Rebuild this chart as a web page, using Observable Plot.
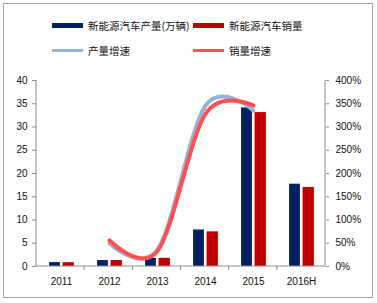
<!DOCTYPE html>
<html><head><meta charset="utf-8">
<script src="https://cdn.jsdelivr.net/npm/d3@7"></script>
<script src="https://cdn.jsdelivr.net/npm/@observablehq/plot@0.6"></script>
<style>
html,body{margin:0;padding:0;background:#fff;}
#wrap{position:relative;width:377px;height:303px;overflow:hidden;font-family:"Liberation Sans",Arial,sans-serif;}
#border{position:absolute;left:3px;top:3px;width:368px;height:293px;border:1.5px solid #a6a6a6;pointer-events:none;}
.lg{position:absolute;display:flex;align-items:center;font-family:"Noto Sans CJK SC",sans-serif;font-size:10.5px;color:#111;white-space:nowrap;}
.sw{display:inline-block;width:31px;margin-right:5px;}
#chart{position:absolute;left:0;top:0;}
</style></head>
<body>
<div id="wrap">
  <div id="chart"></div>
  <div id="legend"></div>
  <div id="border"></div>
</div>
<script>
const years = ["2011","2012","2013","2014","2015","2016H"];
const production = [0.84, 1.28, 1.75, 7.85, 34.1, 17.7];
const sales = [0.82, 1.28, 1.76, 7.45, 33.1, 17.0];
const growthYears = ["2012","2013","2014","2015"];
const productionGrowth = [50, 36, 346, 335];
const salesGrowth = [56, 33, 328, 346];
const leftTicks = [0,5,10,15,20,25,30,35,40];
const seriesNames = ["新能源汽车产量(万辆)","新能源汽车销量","产量增速","销量增速"];
const colors = ["#002060","#C00000","#95B3D7","#FF5050"];

const prodData = years.map((y,i)=>({year:y, value:production[i]}));
const salesData = years.map((y,i)=>({year:y, value:sales[i]}));
const pgData = growthYears.map((y,i)=>({year:y, g:productionGrowth[i]}));
const sgData = growthYears.map((y,i)=>({year:y, g:salesGrowth[i]}));

const W = 377, H = 303, mL = 36, mR = 52, mT = 80, mB = 37;
const bw = (W - mL - mR) / years.length;

const axisLines = (index, scales, values, dims) => {
  const g = d3.create("svg:g").attr("stroke","#8c8c8c").attr("stroke-width",1);
  const x0 = dims.marginLeft, x1 = dims.width - dims.marginRight, yb = dims.height - dims.marginBottom;
  g.append("line").attr("x1",x0).attr("x2",x0).attr("y1",dims.marginTop).attr("y2",yb);
  g.append("line").attr("x1",x1).attr("x2",x1).attr("y1",dims.marginTop).attr("y2",yb);
  g.append("line").attr("x1",x0).attr("x2",x1).attr("y1",yb).attr("y2",yb);
  for (let i = 1; i < years.length; i++) {
    const x = x0 + i * (x1 - x0) / years.length;
    g.append("line").attr("x1",x).attr("x2",x).attr("y1",yb).attr("y2",yb+4);
  }
  return g.node();
};

const chart = Plot.plot({
  width: W, height: H,
  marginLeft: mL, marginRight: mR, marginTop: mT, marginBottom: mB,
  style: {fontFamily: "'Liberation Sans', Arial, sans-serif", fontSize: "10px", color: "#111", background: "transparent"},
  x: {type: "band", domain: years, padding: 0},
  y: {domain: [0, 40]},
  marks: [
    Plot.barY(prodData, {x: "year", y: "value", fill: colors[0], insetLeft: bw/2 - 12, insetRight: bw/2 + 1}),
    Plot.barY(salesData, {x: "year", y: "value", fill: colors[1], insetLeft: bw/2 + 1.5, insetRight: bw/2 - 13}),
    Plot.line(pgData, {x: "year", y: d => d.g / 10, stroke: colors[2], strokeWidth: 4, curve: "cardinal"}),
    Plot.line(sgData, {x: "year", y: d => d.g / 10, stroke: colors[3], strokeWidth: 4, curve: "cardinal"}),
    axisLines,
    Plot.axisY({anchor: "left", ticks: leftTicks, tickSize: 4, tickPadding: 5, stroke: "#8c8c8c", label: null}),
    Plot.axisY({anchor: "right", ticks: leftTicks, tickFormat: d => (d * 10) + "%", tickSize: 3, tickPadding: 7, stroke: "#8c8c8c", label: null}),
    Plot.axisX({tickSize: 0, tickPadding: 11, label: null})
  ]
});
document.getElementById("chart").appendChild(chart);

const legendItems = [
  {name: seriesNames[0], color: colors[0], left: 52, top: 25, h: 5},
  {name: seriesNames[1], color: colors[1], left: 193, top: 25, h: 5},
  {name: seriesNames[2], color: colors[2], left: 52, top: 50, h: 3},
  {name: seriesNames[3], color: colors[3], left: 193, top: 50, h: 3}
];
const lg = document.getElementById("legend");
legendItems.forEach(it => {
  const d = document.createElement("div");
  d.className = "lg";
  d.style.left = it.left + "px";
  d.style.top = (it.top - 8) + "px";
  d.style.height = "16px";
  const s = document.createElement("span");
  s.className = "sw";
  s.style.height = it.h + "px";
  s.style.background = it.color;
  d.appendChild(s);
  d.appendChild(document.createTextNode(it.name));
  lg.appendChild(d);
});
</script>
</body></html>
